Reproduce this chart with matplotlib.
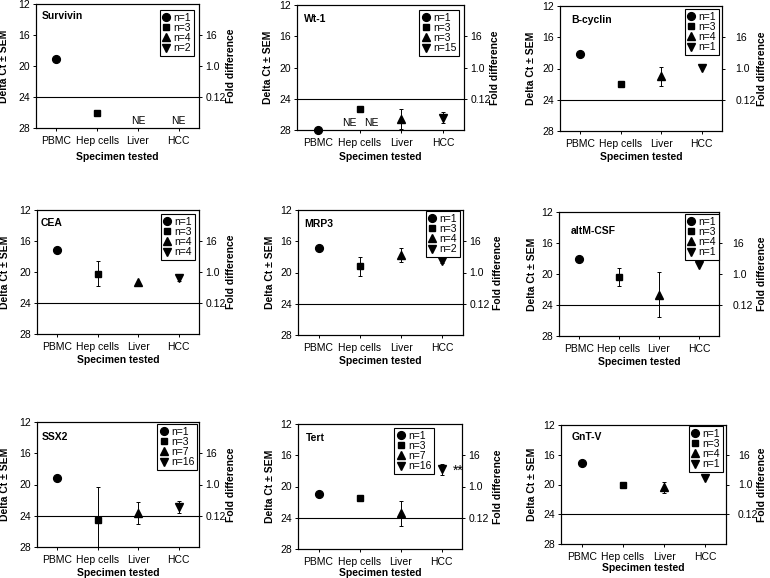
import numpy as np
import matplotlib
matplotlib.use("Agg")
import matplotlib.pyplot as plt
from matplotlib.lines import Line2D

plt.rcParams['font.family'] = ['Liberation Sans', 'DejaVu Sans']

nan = np.nan
categories = ["PBMC", "Hep cells", "Liver", "HCC"]
genes = ["Survivin", "Wt-1", "B-cyclin", "CEA", "MRP3", "altM-CSF", "SSX2", "Tert", "GnT-V"]

ct_survivin = [19.1, 26.0, nan, nan]
sem_survivin = [0, 0, nan, nan]
n_survivin = [1, 3, 4, 2]

ct_wt1 = [28.0, 25.3, 26.6, 26.4]
sem_wt1 = [0, 0, 1.3, 0.7]
n_wt1 = [1, 3, 3, 15]

ct_bcyclin = [18.1, 22.0, 21.0, 19.9]
sem_bcyclin = [0, 0, 1.2, 0]
n_bcyclin = [1, 3, 4, 1]

ct_cea = [17.2, 20.2, 21.3, 20.8]
sem_cea = [0, 1.65, 0, 0.3]
n_cea = [1, 3, 4, 4]

ct_mrp3 = [16.8, 19.2, 17.8, 18.5]
sem_mrp3 = [0, 1.2, 0.9, 0.3]
n_mrp3 = [1, 3, 4, 2]

ct_altmcsf = [18.1, 20.4, 22.7, 18.9]
sem_altmcsf = [0, 1.2, 2.9, 0]
n_altmcsf = [1, 3, 4, 1]

ct_ssx2 = [19.15, 24.6, 23.6, 22.9]
sem_ssx2 = [0, 4.3, 1.4, 0.8]
n_ssx2 = [1, 3, 7, 16]

ct_tert = [20.9, 21.5, 23.4, 17.8]
sem_tert = [0, 0, 1.6, 0.7]
n_tert = [1, 3, 7, 16]

ct_gntv = [17.1, 20.0, 20.4, 19.1]
sem_gntv = [0, 0, 0.8, 0]
n_gntv = [1, 3, 4, 1]

left_ticks = [12, 16, 20, 24, 28]
fold_ticks = [16, 20, 24]
fold_labels = ["16", "1.0", "0.12"]
threshold = 24
ne_label = "NE"
sig_label = "**"

cts = [ct_survivin, ct_wt1, ct_bcyclin, ct_cea, ct_mrp3, ct_altmcsf, ct_ssx2, ct_tert, ct_gntv]
sems = [sem_survivin, sem_wt1, sem_bcyclin, sem_cea, sem_mrp3, sem_altmcsf, sem_ssx2, sem_tert, sem_gntv]
ns = [n_survivin, n_wt1, n_bcyclin, n_cea, n_mrp3, n_altmcsf, n_ssx2, n_tert, n_gntv]

# annotations: (panel, x, y)
ne_marks = [(0, 3.0, 27.05), (0, 4.0, 27.05), (1, 1.75, 27.1), (1, 2.28, 27.1)]
sig_marks = [(7, 4.4, 18.0)]

# ---- layout (pixels): left, top, right, bottom ----
W, H = 770, 578
rects = [(36, 4, 199, 128), (297, 5, 464, 130), (560, 6, 722, 131),
         (37, 210, 199, 334), (298, 210, 463, 335), (559, 212, 719, 336),
         (37, 422, 199, 547), (298, 424, 462, 549), (561, 425, 726, 544)]
legend_anchor = [(194, 10), (459, 10), (719, 9), (195, 214), (460, 211),
                 (719, 214), (197, 424), (434, 428), (723, 426)]
title_off = [(6, 12), (7, 14), (11, 14), (4, 13), (6, 14), (12, 19), (5, 15), (8, 14), (11, 12)]
left_lab_off = [32, 29, 29, 32, 28, 27, 32, 28, 29]
right_lab_off = [32, 31, 40, 32, 35, 43, 32, 36, 36]
right_tick_pad = [2, 2, 7, 2, 2, 7, 2, 2, 6]
xlab_off = [29, 27, 26, 26, 26, 26, 26, 24, 24]

markers = ['o', 's', '^', 'v']
msizes = [5.6, 5.0, 5.4, 5.4]
FS = 7.5

fig = plt.figure(figsize=(W / 100, H / 100), dpi=100)
x = np.arange(1, len(categories) + 1)

for i, gene in enumerate(genes):
    l, t, r, b = rects[i]
    ax = fig.add_axes([l / W, 1 - b / H, (r - l) / W, (b - t) / H])
    aw, ah = r - l, b - t
    ax.set_xlim(0.5, 4.5)
    ax.set_ylim(28, 12)
    ax.axhline(threshold, color='black', lw=0.8, zorder=1)
    ct = cts[i]
    sem = sems[i]
    for j in range(len(categories)):
        if np.isnan(ct[j]):
            continue
        if sem[j] and sem[j] > 0:
            ax.errorbar(x[j], ct[j], yerr=sem[j], fmt='none', ecolor='black',
                        elinewidth=0.7, capsize=1.6, capthick=0.7, zorder=2)
        ax.plot(x[j], ct[j], marker=markers[j], ms=msizes[j], color='black',
                ls='none', clip_on=False, zorder=3)
    for (p, xx, yy) in ne_marks:
        if p == i:
            ax.text(xx, yy, ne_label, fontsize=FS, ha='center', va='center')
    for (p, xx, yy) in sig_marks:
        if p == i:
            ax.text(xx, yy, sig_label, fontsize=10, ha='center', va='center', clip_on=False)
    ax.set_xticks(x)
    ax.set_xticklabels(categories, fontsize=FS)
    ax.set_yticks(left_ticks)
    ax.set_yticklabels([str(v) for v in left_ticks], fontsize=FS)
    ax.tick_params(axis='both', direction='out', length=2.5, width=0.7, pad=2, colors='black')
    ax.tick_params(axis='x', pad=3)
    for s in ax.spines.values():
        s.set_linewidth(0.8)
    ax.set_ylabel("Delta Ct \u00b1 SEM", fontsize=FS, fontweight='bold')
    ax.yaxis.set_label_coords(-left_lab_off[i] / aw, 0.5)
    ax.set_xlabel("Specimen tested", fontsize=FS, fontweight='bold')
    ax.xaxis.set_label_coords(0.5, -xlab_off[i] / ah)
    ax.xaxis.label.set_va('center')
    ax.yaxis.label.set_va('center')

    ax2 = ax.twinx()
    ax2.set_ylim(28, 12)
    ax2.set_yticks(fold_ticks)
    ax2.set_yticklabels(fold_labels, fontsize=FS)
    ax2.tick_params(axis='y', direction='out', length=2.5, width=0.7, pad=right_tick_pad[i])
    ax2.set_ylabel("Fold difference", fontsize=FS, fontweight='bold')
    ax2.yaxis.set_label_coords(1 + right_lab_off[i] / aw, 0.5)
    ax2.yaxis.label.set_va('center')
    for s in ax2.spines.values():
        s.set_linewidth(0.8)

    tx, ty = title_off[i]
    ax.text(tx / aw, 1 - ty / ah, gene, transform=ax.transAxes, fontsize=FS,
            fontweight='bold', ha='left', va='center')

    handles = [Line2D([], [], marker=markers[k], ms=msizes[k], color='black', ls='none')
               for k in range(4)]
    labels = ["n=%d" % v for v in ns[i]]
    lx, ly = legend_anchor[i]
    leg = ax2.legend(handles, labels, loc='upper right',
                     bbox_to_anchor=((lx - l) / aw, 1 - (ly - t) / ah),
                     fontsize=FS, frameon=True, fancybox=False, edgecolor='black',
                     framealpha=1, borderpad=0.25, labelspacing=0.02, handlelength=0.7,
                     handletextpad=0.35, borderaxespad=0)
    leg.get_frame().set_linewidth(0.8)

fig.savefig("out.png", dpi=100)
